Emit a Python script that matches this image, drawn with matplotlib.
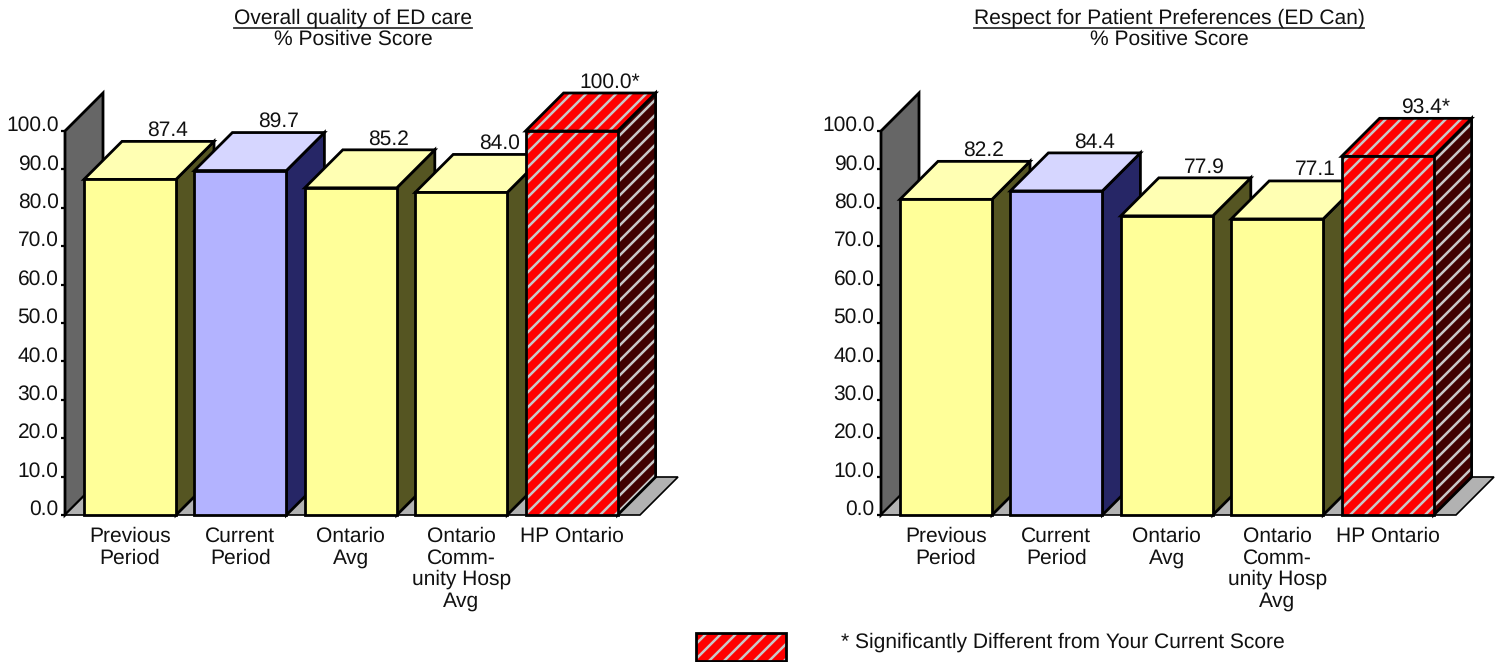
import matplotlib
matplotlib.use("Agg")
import matplotlib.pyplot as plt
from matplotlib.collections import LineCollection
from matplotlib.lines import Line2D
from matplotlib.patches import Polygon, Rectangle
from matplotlib.transforms import IdentityTransform

plt.rcParams["font.family"] = ["Liberation Sans", "DejaVu Sans"]
plt.rcParams["text.hinting"] = "no_hinting"
plt.rcParams["text.hinting_factor"] = 1

FIG_W, FIG_H = 1503, 662
FONT_SIZE = 15.3

## DATA ##
categories = ["Previous\nPeriod", "Current\nPeriod", "Ontario\nAvg",
              "Ontario\nComm-\nunity Hosp\nAvg", "HP Ontario"]
y_ticks = [0, 10, 20, 30, 40, 50, 60, 70, 80, 90, 100]

left_title = "Overall quality of ED care"
left_values = [87.4, 89.7, 85.2, 84.0, 100.0]
left_stars = ["", "", "", "", "*"]

right_title = "Respect for Patient Preferences (ED Can)"
right_values = [82.2, 84.4, 77.9, 77.1, 93.4]
right_stars = ["", "", "", "", "*"]

subtitle = "% Positive Score"
legend_text = "* Significantly Different from Your Current Score"

## COLOURS (front, top, side) ##
YELLOW = ("#FFFF99", "#FFFFB3", "#555522")
BLUE = ("#B3B3FF", "#D6D6FF", "#262666")
RED = ("#FF0000", "#FF0000", "#400000")
bar_styles = [YELLOW, BLUE, YELLOW, YELLOW, RED]
STRIPE_GREY = "#C8C8C8"
TEXT_COLOR = "#111111"

## GEOMETRY in pixels ##
PX_BOTTOM, PX_TOP = 515, 131
PX_WALL = 65
PX_FLOOR_END = 640
PX_FIRST_CENTER = 130
PX_STEP = 110.4
PX_BAR = 92
PX_DEPTH = 38
PX_STRIPE_STEP = 15
LW = 2.0


def stripes_for(patch, zorder):
    # diagonal lines over the whole canvas, cut down to the shape of the patch
    offsets = range(-FIG_W, FIG_H, PX_STRIPE_STEP)
    segments = [[(0, c), (FIG_W, FIG_W + c)] for c in offsets]
    lines = LineCollection(segments, colors=STRIPE_GREY, linewidths=1.8,
                           transform=IdentityTransform(), zorder=zorder)
    lines.set_clip_path(patch.get_path(), patch.get_transform())
    return lines


def draw_face(ax, points, color, hatched, zorder):
    if hatched:
        face = Polygon(points, closed=True, facecolor=color, linewidth=0, zorder=zorder, clip_on=False)
        ax.add_patch(face)
        ax.add_collection(stripes_for(face, zorder), autolim=False)
        ax.add_patch(Polygon(points, closed=True, fill=False, edgecolor="k",
                             linewidth=LW, joinstyle="miter", zorder=zorder, clip_on=False))
    else:
        ax.add_patch(Polygon(points, closed=True, facecolor=color, edgecolor="k",
                             linewidth=LW, joinstyle="miter", zorder=zorder, clip_on=False))


def draw_panel(x_shift, title, values, stars):
    ax_left = (PX_WALL + x_shift) / FIG_W
    ax_width = (PX_FLOOR_END - PX_WALL) / FIG_W
    ax_bottom = (FIG_H - PX_BOTTOM) / FIG_H
    ax_height = (PX_BOTTOM - PX_TOP) / FIG_H
    ax = plt.gcf().add_axes([ax_left, ax_bottom, ax_width, ax_height])

    ax.set_xlim((PX_WALL - PX_FIRST_CENTER) / PX_STEP, (PX_FLOOR_END - PX_FIRST_CENTER) / PX_STEP)
    ax.set_ylim(0, 100)
    for spine in ax.spines.values():
        spine.set_visible(False)
    ax.patch.set_visible(False)

    # depth of the fake 3D in data units
    px_per_unit = (PX_BOTTOM - PX_TOP) / 100
    dx = PX_DEPTH / PX_STEP
    dy = PX_DEPTH / px_per_unit
    half = PX_BAR / PX_STEP / 2
    x_min, x_max = ax.get_xlim()

    # back wall and floor
    ax.add_patch(Polygon([(x_min, 0), (x_min, 100), (x_min + dx, 100 + dy), (x_min + dx, dy)],
                         closed=True, facecolor="#666666", edgecolor="k", linewidth=LW,
                         zorder=1, clip_on=False))
    ax.add_patch(Polygon([(x_min, 0), (x_max, 0), (x_max + dx, dy), (x_min + dx, dy)],
                         closed=True, facecolor="#B2B2B2", edgecolor="k", linewidth=1.2,
                         zorder=1, clip_on=False))

    # bars, left to right so each one sits over the side of the last
    for i, value in enumerate(values):
        front, top, side = bar_styles[i]
        hatched = bar_styles[i] is RED
        z = 2 + i
        draw_face(ax, [(i + half, 0), (i + half + dx, dy), (i + half + dx, value + dy), (i + half, value)],
                  side, hatched, z)
        draw_face(ax, [(i - half, value), (i + half, value), (i + half + dx, value + dy), (i - half + dx, value + dy)],
                  top, hatched, z)
        if hatched:
            bar = ax.bar(i, value, width=2 * half, color=front, linewidth=0, zorder=z, clip_on=False)[0]
            ax.add_collection(stripes_for(bar, z), autolim=False)
            ax.bar(i, value, width=2 * half, fill=False, edgecolor="k",
                   linewidth=LW, zorder=z, clip_on=False)
        else:
            ax.bar(i, value, width=2 * half, color=front, edgecolor="k",
                   linewidth=LW, zorder=z, clip_on=False)
        ax.text(i + dx, value + dy + 5.5 / px_per_unit, f"{value:.1f}{stars[i]}", ha="center",
                va="baseline", fontsize=FONT_SIZE, color=TEXT_COLOR, zorder=10)

    ax.set_yticks(y_ticks, [f"{t:.1f}" for t in y_ticks])
    ax.tick_params(axis="y", length=3.2, width=1.6, pad=1.5, labelsize=FONT_SIZE, labelcolor=TEXT_COLOR)
    for label in ax.get_yticklabels():
        label.set_va("baseline")
    ax.set_xticks(range(len(categories)), categories)
    ax.tick_params(axis="x", length=0, pad=8.5, labelsize=FONT_SIZE, labelcolor=TEXT_COLOR)
    for label in ax.get_xticklabels():
        label.set_linespacing(1.12)

    # centred titles, the first one underlined by hand
    fig = plt.gcf()
    center = (353 + x_shift) / FIG_W
    title_text = fig.text(center, 1 - 24 / FIG_H, title, ha="center", va="baseline",
                          fontsize=FONT_SIZE, color=TEXT_COLOR)
    fig.text(center, 1 - 45 / FIG_H, subtitle, ha="center", va="baseline",
             fontsize=FONT_SIZE, color=TEXT_COLOR)
    box = title_text.get_window_extent(fig.canvas.get_renderer())
    fig.add_artist(Line2D([box.x0 / FIG_W, box.x1 / FIG_W], [1 - 28 / FIG_H, 1 - 28 / FIG_H],
                          color="#333333", linewidth=1.3))


fig = plt.figure(figsize=(FIG_W / 100, FIG_H / 100), dpi=100)

draw_panel(0, left_title, left_values, left_stars)
draw_panel(816, right_title, right_values, right_stars)

## LEGEND ##
swatch_xy = (696 / FIG_W, 1 - 660.5 / FIG_H)
swatch_w, swatch_h = 90 / FIG_W, 28 / FIG_H
swatch = Rectangle(swatch_xy, swatch_w, swatch_h, transform=fig.transFigure,
                   facecolor="#FF0000", linewidth=0)
fig.add_artist(swatch)
fig.add_artist(stripes_for(swatch, 1))
fig.add_artist(Rectangle(swatch_xy, swatch_w, swatch_h, transform=fig.transFigure,
                         fill=False, edgecolor="k", linewidth=LW, zorder=2))
fig.text(841 / FIG_W, 1 - 648 / FIG_H, legend_text, ha="left", va="baseline",
         fontsize=FONT_SIZE, color=TEXT_COLOR)

fig.savefig("out.png", dpi=100)
